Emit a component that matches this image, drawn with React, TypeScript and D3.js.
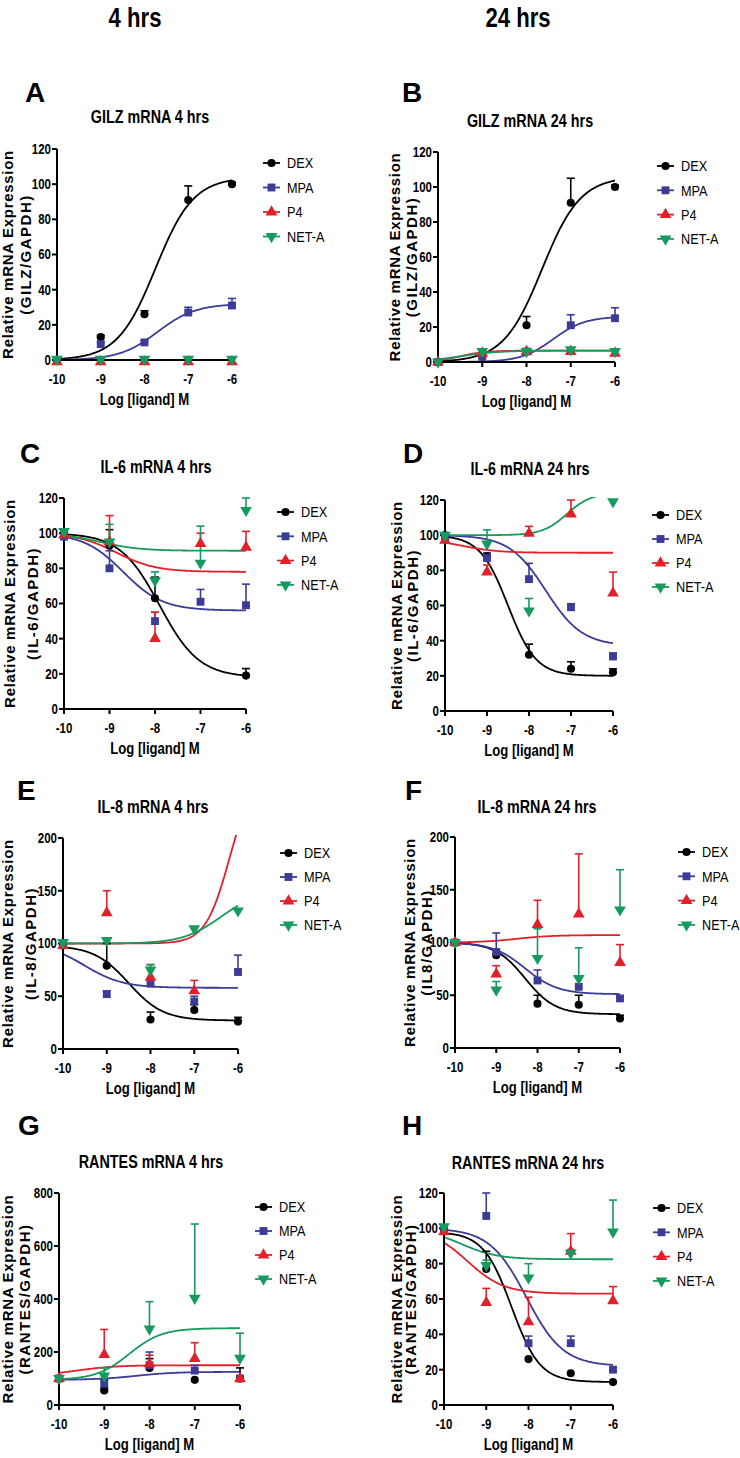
import React from "react";
import * as d3 from "d3";

// ---------- shared categories ----------
const SERIES = ["DEX", "MPA", "P4", "NET-A"];
const COLORS = ["#000000", "#3b3b98", "#e3202a", "#179a5e"];
const LOG_DOSES = [-10, -9, -8, -7, -6];
const COLUMN_HEADERS = ["4 hrs", "24 hrs"];

// ---------- data: means per series [DEX, MPA, P4, NET-A] at LOG_DOSES ----------
// upper error-bar ends (null = no visible bar); fits = [left asymptote, right asymptote, logEC50, hill]
const gilz4Means = [[0, 13, 26, 91, 100], [0, 9, 10, 27, 31], [-1, -1, -1, -1, -1], [0.5, 0.5, 0.5, 0.5, 0.5]];
const gilz4Hi = [[null, 14, 28, 99, 101], [null, 10, 11, 30, 35], [null, null, null, null, null], [null, null, null, null, null]];
const gilz4Fit = [[0, 104, -7.75, 1], [0, 32, -7.7, 1], [0, 0, -8, 1], [0, 0, -8, 1]];

const gilz24Means = [[0, 3, 21, 91, 100], [0, 3, 6, 21, 25], [0, 5, 6, 6, 5], [0, 6, 6, 7, 6]];
const gilz24Hi = [[null, null, 26, 105, 101], [null, null, 7, 27, 31], [null, null, null, null, null], [null, 7, 7, 8, 7]];
const gilz24Fit = [[0, 106, -7.65, 1], [0, 26, -7.4, 1.2], [0, 6.5, -9.5, 1.5], [0, 6.5, -9.5, 1]];

const il6h4Means = [[100, 93, 63, null, 19], [98, 80, 50, 61, 59], [99, 95, 40, 94, 92], [101, 95, 73, 83, 113]];
const il6h4Hi = [[null, 102, 75, null, 23], [null, 90, 55, 68, 71], [null, 110, 55, 100, 101], [null, 105, 78, 104, 120]];
const il6h4Fit = [[100, 18, -7.9, 1], [100, 56, -8.7, 1], [100, 78, -8.85, 1], [100, 90, -9.2, 1]];

const il6h24Means = [[100, 88, 32, 24, 22], [99, 87, 75, 59, 31], [97, 79, 101, 112, 67], [100, 95, 57, null, 119]];
const il6h24Hi = [[null, null, 38, 28, 24], [null, 90, 84, 61, 33], [null, 83, 105, 120, 79], [null, 103, 64, null, null]];
const il6h24Fit = [[100, 20, -8.5, 1.3], [100, 37, -7.6, 1], [98, 90, -9.6, 1], [100, 124, -7.1, 1.5]];

const il8h4Means = [[98, 79, 28, 37, 26], [100, 52, 62, 45, 73], [98, 129, 68, 55, null], [101, 103, 75, 114, 131]];
const il8h4Hi = [[null, 100, 35, 42, 30], [null, 55, 67, 50, 89], [null, 150, 80, 65, null], [null, null, 80, null, null]];
const il8h4Fit = [[98, 27, -8.5, 1.1], [100, 58, -9.5, 1], [100, 260, -6.2, 1.6], [100, 150, -6.4, 1]];

const il8h24Means = [[100, 88, 42, 41, 28], [100, 91, 64, 58, 47], [100, 70, 117, 127, 81], [100, 55, 85, 66, 131]];
const il8h24Hi = [[null, null, 50, 50, 31], [null, 109, 74, null, 49], [null, 78, 140, 184, 98], [null, 63, 113, 95, 169]];
const il8h24Fit = [[100, 32, -8.3, 1.2], [100, 51, -8.3, 1.1], [100, 107, -8.5, 1], null];

const rantes4Means = [[100, 55, 140, 95, 100], [100, 80, 150, 130, 100], [100, 190, 155, 175, 100], [100, 110, 287, 403, 177]];
const rantes4Hi = [[null, 65, 175, null, 140], [null, 95, 200, 150, 110], [null, 285, 188, 235, 110], [null, 140, 390, 683, 271]];
const rantes4Fit = [null, [95, 125, -8.3, 1], [110, 150, -9.6, 1], [95, 290, -8.45, 1.2]];

const rantes24Means = [[99, 77, 26, 18, 13], [100, 107, 35, 35, 20], [98, 58, 47, 87, 59], [101, 79, 72, 86, 98]];
const rantes24Hi = [[null, 87, null, null, null], [null, 120, 39, 39, null], [null, 66, 61, 97, 67], [null, 82, 80, 88, 116]];
const rantes24Fit = [[98, 13, -8.4, 1.3], [100, 22, -8.05, 1], [100, 63, -9.45, 1], [100, 82.5, -9.6, 1]];

// ---------- panel definitions ----------
const PANELS = [
  { letter: "A", title: "GILZ mRNA 4 hrs", yLab: "(GILZ/GAPDH)", yMax: 120, yStep: 20, means: gilz4Means, hi: gilz4Hi, fits: gilz4Fit,
    L: { x0: 57, x1: 232, yT: 149, yB: 360, lx: 25, ly: 102, tx: 150, ty: 123, gx: 263, gy: 163, gd: 24.5, t1: -50, t2: -32 } },
  { letter: "B", title: "GILZ mRNA 24 hrs", yLab: "(GILZ/GAPDH)", yMax: 120, yStep: 20, means: gilz24Means, hi: gilz24Hi, fits: gilz24Fit,
    L: { x0: 438, x1: 615, yT: 152, yB: 362, lx: 402, ly: 102, tx: 530, ty: 127, gx: 657, gy: 166, gd: 24.3, t1: -44, t2: -27 } },
  { letter: "C", title: "IL-6 mRNA 4 hrs", yLab: "(IL-6/GAPDH)", yMax: 120, yStep: 20, means: il6h4Means, hi: il6h4Hi, fits: il6h4Fit,
    L: { x0: 64, x1: 246, yT: 498, yB: 709, lx: 20, ly: 463, tx: 156, ty: 473, gx: 277, gy: 512, gd: 24.3, t1: -55, t2: -32 } },
  { letter: "D", title: "IL-6 mRNA 24 hrs", yLab: "(IL-6/GAPDH)", yMax: 120, yStep: 20, means: il6h24Means, hi: il6h24Hi, fits: il6h24Fit,
    L: { x0: 445, x1: 613, yT: 500, yB: 711, lx: 403, ly: 463, tx: 530, ty: 475, gx: 652, gy: 515, gd: 24, t1: -49, t2: -33 } },
  { letter: "E", title: "IL-8 mRNA 4 hrs", yLab: "(IL-8/GAPDH)", yMax: 200, yStep: 50, means: il8h4Means, hi: il8h4Hi, fits: il8h4Fit,
    L: { x0: 63, x1: 238, yT: 838, yB: 1049, lx: 17, ly: 800, tx: 153, ty: 813, gx: 280, gy: 853, gd: 24, t1: -56, t2: -33 } },
  { letter: "F", title: "IL-8 mRNA 24 hrs", yLab: "(IL8/GAPDH)", yMax: 200, yStep: 50, means: il8h24Means, hi: il8h24Hi, fits: il8h24Fit,
    L: { x0: 455, x1: 620, yT: 837, yB: 1048, lx: 405, ly: 800, tx: 537, ty: 813, gx: 678, gy: 852, gd: 24.3, t1: -46, t2: -29 } },
  { letter: "G", title: "RANTES mRNA 4 hrs", yLab: "(RANTES/GAPDH)", yMax: 800, yStep: 200, means: rantes4Means, hi: rantes4Hi, fits: rantes4Fit,
    L: { x0: 59, x1: 240, yT: 1193, yB: 1405, lx: 18, ly: 1135, tx: 151, ty: 1168, gx: 255, gy: 1207, gd: 24, t1: -52, t2: -35 } },
  { letter: "H", title: "RANTES mRNA 24 hrs", yLab: "(RANTES/GAPDH)", yMax: 120, yStep: 20, means: rantes24Means, hi: rantes24Hi, fits: rantes24Fit,
    L: { x0: 444, x1: 613, yT: 1193, yB: 1405, lx: 402, ly: 1135, tx: 528, ty: 1169, gx: 653, gy: 1208, gd: 24.3, t1: -48, t2: -34 } },
];

const SANS = "'Liberation Sans', Arial, sans-serif";
const NARROW_SCALE = 0.82;

const SYMBOLS = [d3.symbolCircle, d3.symbolSquare, d3.symbolTriangle, d3.symbolTriangle];
const SYM_SIZE = [52, 62, 60, 60];
const ROT = [0, 0, 0, 180];

const fitValue = (p: number[], x: number) => p[0] + (p[1] - p[0]) / (1 + Math.pow(10, (p[2] - x) * p[3]));

// condensed text (no narrow font installed: scale Liberation Sans horizontally)
function NText({ x, y, size, bold, anchor, baseline, children }: any) {
  return (
    <text
      transform={`translate(${x},${y}) scale(${NARROW_SCALE},1)`}
      textAnchor={anchor || "start"}
      dominantBaseline={baseline || "auto"}
      fontFamily={SANS}
      fontWeight={bold ? "bold" : "normal"}
      fontSize={size}
    >
      {children}
    </text>
  );
}

function Marker({ i, x, y }: { i: number; x: number; y: number }) {
  const path = d3.symbol(SYMBOLS[i], SYM_SIZE[i])() as string;
  return <path d={path} fill={COLORS[i]} transform={`translate(${x},${y}) rotate(${ROT[i]})`} />;
}

function Panel({ p, idx }: { p: any; idx: number }) {
  const L = p.L;
  const x = d3.scaleLinear().domain([-10, -6]).range([L.x0, L.x1]);
  const y = d3.scaleLinear().domain([0, p.yMax]).range([L.yB, L.yT]);
  const yTicks = d3.range(0, p.yMax + 0.001, p.yStep);
  const xs = d3.range(-10, -5.999, 0.02);
  const clipId = `clip${idx}`;
  const midY = (L.yT + L.yB) / 2;
  return (
    <g>
      <defs>
        <clipPath id={clipId}>
          <rect x={L.x0 - 8} y={L.yT - 3} width={L.x1 - L.x0 + 16} height={L.yB - L.yT + 12} />
        </clipPath>
      </defs>
      <text x={L.lx} y={L.ly} fontFamily={SANS} fontWeight="bold" fontSize={28}>{p.letter}</text>
      <NText x={L.tx} y={L.ty} size={17.5} bold anchor="middle">{p.title}</NText>
      {/* y title */}
      <g transform={`translate(${L.x0 + L.t1},${midY}) rotate(-90)`}>
        <text textAnchor="middle" dominantBaseline="central" fontFamily={SANS} fontWeight="bold" fontSize={15} letterSpacing={0.7}>Relative mRNA Expression</text>
      </g>
      <g transform={`translate(${L.x0 + L.t2},${midY}) rotate(-90)`}>
        <text textAnchor="middle" dominantBaseline="central" fontFamily={SANS} fontWeight="bold" fontSize={15} letterSpacing={1.5}>{p.yLab}</text>
      </g>
      {/* curves and error bars */}
      <g clipPath={`url(#${clipId})`}>
        {p.fits.map((f: number[] | null, i: number) =>
          f ? (
            <path key={i} d={d3.line<number>().x((d) => x(d)).y((d) => y(fitValue(f, d)))(xs) as string}
              fill="none" stroke={COLORS[i]} strokeWidth={1.8} />
          ) : null
        )}
        {p.hi.map((arr: (number | null)[], i: number) =>
          arr.map((h, j) => {
            const m = p.means[i][j];
            if (h == null || m == null) return null;
            return (
              <g key={`${i}-${j}`} stroke={COLORS[i]} strokeWidth={1.6}>
                <line x1={x(LOG_DOSES[j])} x2={x(LOG_DOSES[j])} y1={y(m)} y2={y(h)} />
                <line x1={x(LOG_DOSES[j]) - 4} x2={x(LOG_DOSES[j]) + 4} y1={y(h)} y2={y(h)} />
              </g>
            );
          })
        )}
      </g>
      {/* axes */}
      <g stroke="#000" strokeWidth={2}>
        <line x1={L.x0} x2={L.x0} y1={L.yT} y2={L.yB + 1} />
        <line x1={L.x0 - 1} x2={L.x1} y1={L.yB} y2={L.yB} />
        {yTicks.map((t) => (
          <line key={`yt${t}`} x1={L.x0 - 5} x2={L.x0} y1={y(t)} y2={y(t)} />
        ))}
        {LOG_DOSES.map((t) => (
          <line key={`xt${t}`} x1={x(t)} x2={x(t)} y1={L.yB} y2={L.yB + 5} />
        ))}
      </g>
      {yTicks.map((t) => (
        <NText key={`yl${t}`} x={L.x0 - 6} y={y(t)} size={14} bold anchor="end" baseline="central">{String(t)}</NText>
      ))}
      {LOG_DOSES.map((t) => (
        <NText key={`xl${t}`} x={x(t)} y={L.yB + 24} size={14} bold anchor="middle">{String(t)}</NText>
      ))}
      <NText x={(L.x0 + L.x1) / 2} y={L.yB + 45} size={16} bold anchor="middle">Log [ligand] M</NText>
      {/* markers */}
      {p.means.map((arr: (number | null)[], i: number) =>
        arr.map((m, j) => (m == null ? null : <Marker key={`m${i}-${j}`} i={i} x={x(LOG_DOSES[j])} y={y(m)} />))
      )}
      {/* legend */}
      {SERIES.map((s, i) => (
        <g key={s} transform={`translate(${L.gx},${L.gy + i * L.gd})`}>
          <line x1={0} x2={17} y1={0} y2={0} stroke={COLORS[i]} strokeWidth={1.8} />
          <Marker i={i} x={8.5} y={0} />
          <NText x={24} y={0} size={15.5} baseline="central">{s}</NText>
        </g>
      ))}
    </g>
  );
}

export default function App() {
  return (
    <svg width={740} height={1458} style={{ position: "absolute", left: 0, top: 0, background: "#fff" }}>
      <rect width={740} height={1458} fill="#fff" />
      <NText x={135} y={27} size={27} bold anchor="middle">{COLUMN_HEADERS[0]}</NText>
      <NText x={518} y={27} size={27} bold anchor="middle">{COLUMN_HEADERS[1]}</NText>
      {PANELS.map((p, i) => (
        <Panel key={p.letter} p={p} idx={i} />
      ))}
    </svg>
  );
}
